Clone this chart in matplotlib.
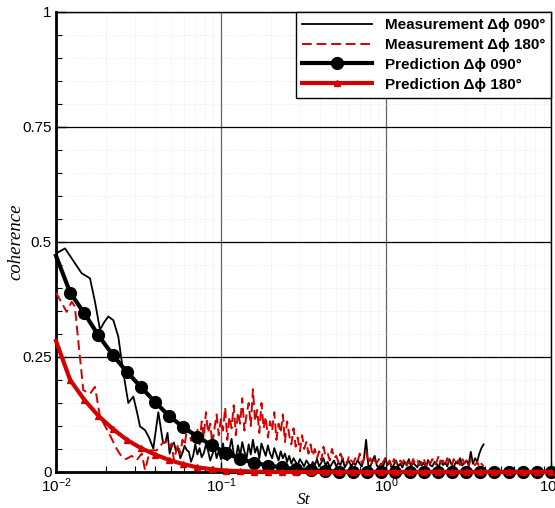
import numpy as np
import matplotlib
matplotlib.use('Agg')
import matplotlib.pyplot as plt
from matplotlib.ticker import LogLocator, MultipleLocator, FixedLocator, NullFormatter

plt.rcParams['font.family'] = ['Liberation Sans', 'DejaVu Sans']
plt.rcParams['mathtext.default'] = 'regular'

# measured coherence, low St part (sparse bins)
st_meas090_low = [0.0100, 0.01134, 0.01268, 0.01431, 0.01607, 0.01723, 0.01848, 0.01954,
                  0.02075, 0.02225, 0.02386, 0.02547, 0.02743, 0.02941, 0.03097, 0.03229,
                  0.03463, 0.03661, 0.03888, 0.04169, 0.04451]
coh_meas090_low = [0.475, 0.486, 0.460, 0.432, 0.421, 0.370, 0.309, 0.325,
                   0.338, 0.330, 0.294, 0.220, 0.150, 0.164, 0.130, 0.099,
                   0.091, 0.075, 0.051, 0.130, 0.064]

st_meas180_low = [0.0100, 0.01161, 0.01245, 0.01300, 0.01463, 0.01607, 0.01723, 0.01848,
                  0.02075, 0.02333, 0.02502, 0.02656, 0.02878, 0.03086, 0.03309, 0.03463,
                  0.03713, 0.04076, 0.04451]
coh_meas180_low = [0.390, 0.348, 0.370, 0.360, 0.178, 0.170, 0.185, 0.120,
                   0.087, 0.050, 0.033, 0.028, 0.035, 0.026, 0.040, 0.004,
                   0.047, 0.047, 0.064]

# measured coherence, dense part St = 0.046 .. 3.9
st_dense = np.geomspace(0.046, 3.9, 150)
coh_meas090_dense = [
    0.064, 0.085, 0.040, 0.058, 0.064, 0.045, 0.052, 0.030, 0.041, 0.057,
    0.048, 0.044, 0.022, 0.035, 0.060, 0.038, 0.052, 0.032, 0.041, 0.060,
    0.046, 0.025, 0.038, 0.055, 0.030, 0.046, 0.028, 0.062, 0.035, 0.025,
    0.050, 0.072, 0.040, 0.030, 0.058, 0.035, 0.065, 0.045, 0.028, 0.060,
    0.038, 0.070, 0.042, 0.055, 0.030, 0.062, 0.048, 0.035, 0.058, 0.040,
    0.030, 0.052, 0.038, 0.025, 0.045, 0.030, 0.040, 0.022, 0.035, 0.018,
    0.030, 0.022, 0.015, 0.028, 0.020, 0.012, 0.025, 0.018, 0.010, 0.022,
    0.015, 0.028, 0.012, 0.020, 0.030, 0.014, 0.022, 0.010, 0.018, 0.025,
    0.012, 0.020, 0.015, 0.030, 0.010, 0.018, 0.024, 0.012, 0.020, 0.015,
    0.026, 0.018, 0.012, 0.030, 0.070, 0.015, 0.012, 0.025, 0.035, 0.014,
    0.010, 0.018, 0.012, 0.030, 0.015, 0.022, 0.008, 0.016, 0.025, 0.012,
    0.018, 0.010, 0.022, 0.014, 0.028, 0.012, 0.020, 0.015, 0.010, 0.024,
    0.014, 0.020, 0.010, 0.026, 0.015, 0.012, 0.022, 0.018, 0.010, 0.025,
    0.015, 0.020, 0.012, 0.028, 0.016, 0.010, 0.022, 0.018, 0.030, 0.014,
    0.020, 0.025, 0.015, 0.044, 0.018, 0.030, 0.022, 0.040, 0.052, 0.060]
coh_meas180_dense = [
    0.064, 0.070, 0.055, 0.062, 0.025, 0.045, 0.060, 0.038, 0.070, 0.058,
    0.090, 0.100, 0.068, 0.085, 0.070, 0.092, 0.060, 0.110, 0.075, 0.130,
    0.085, 0.105, 0.060, 0.095, 0.125, 0.080, 0.115, 0.090, 0.140, 0.070,
    0.120, 0.095, 0.145, 0.080, 0.130, 0.105, 0.160, 0.090, 0.125, 0.150,
    0.100, 0.180, 0.110, 0.135, 0.085, 0.150, 0.095, 0.120, 0.075, 0.110,
    0.090, 0.130, 0.070, 0.105, 0.085, 0.125, 0.065, 0.110, 0.080, 0.060,
    0.095, 0.055, 0.075, 0.045, 0.080, 0.050, 0.065, 0.040, 0.060, 0.035,
    0.050, 0.030, 0.045, 0.025, 0.055, 0.035, 0.040, 0.025, 0.050, 0.030,
    0.035, 0.022, 0.040, 0.028, 0.030, 0.018, 0.035, 0.025, 0.020, 0.030,
    0.022, 0.040, 0.018, 0.028, 0.045, 0.020, 0.030, 0.015, 0.025, 0.020,
    0.028, 0.015, 0.022, 0.030, 0.018, 0.025, 0.012, 0.028, 0.020, 0.015,
    0.025, 0.018, 0.030, 0.015, 0.022, 0.012, 0.028, 0.018, 0.025, 0.015,
    0.020, 0.030, 0.012, 0.025, 0.018, 0.028, 0.015, 0.022, 0.035, 0.018,
    0.025, 0.015, 0.030, 0.020, 0.012, 0.028, 0.018, 0.025, 0.015, 0.030,
    0.018, 0.025, 0.012, 0.028, 0.020, 0.015, 0.022, 0.010, 0.018, 0.012]

# predicted coherence
st_pred = np.logspace(-2, 1, 36)
coh_pred090 = [0.470, 0.390, 0.345, 0.297, 0.255, 0.218, 0.185, 0.152, 0.122, 0.097,
               0.077, 0.058, 0.042, 0.028, 0.020, 0.014, 0.010, 0.006, 0.004, 0.002,
               0.001, 0, 0, 0, 0, 0, 0, 0, 0, 0, 0, 0, 0, 0, 0, 0]
coh_pred180 = [0.285, 0.200, 0.157, 0.122, 0.094, 0.070, 0.052, 0.038, 0.026, 0.017,
               0.010, 0.006, 0.003, 0.002, 0.001, 0, 0, 0, 0, 0,
               0, 0, 0, 0, 0, 0, 0, 0, 0, 0, 0, 0, 0, 0, 0, 0]

labels = ['Measurement \u0394\u03d5 090\u00b0', 'Measurement \u0394\u03d5 180\u00b0',
          'Prediction \u0394\u03d5 090\u00b0', 'Prediction \u0394\u03d5 180\u00b0']

red = '#d40000'

fig = plt.figure(figsize=(5.55, 5.08), dpi=100)
ax = fig.add_axes([0.1009, 0.0709, 0.892, 0.9055])

st_m090 = np.concatenate([st_meas090_low, st_dense])
c_m090 = np.concatenate([coh_meas090_low, coh_meas090_dense])
st_m180 = np.concatenate([st_meas180_low, st_dense])
c_m180 = np.concatenate([coh_meas180_low, coh_meas180_dense])

ax.plot(st_m090, c_m090, color='black', lw=1.3, label=labels[0], zorder=3)
ax.plot(st_m180, c_m180, color=red, lw=1.4, linestyle=(0, (5, 2.5)), label=labels[1], zorder=4)
ax.plot(st_pred, coh_pred090, color='black', lw=3, marker='o', ms=8.5,
        markevery=slice(1, None), label=labels[2], zorder=5, clip_on=False)
ax.plot(st_pred, coh_pred180, color=red, lw=3, marker='^', ms=5,
        markevery=slice(1, None), label=labels[3], zorder=6, clip_on=False)

ax.set_xscale('log')
ax.set_xlim(0.01, 10)
ax.set_ylim(0, 1)
ax.xaxis.set_major_locator(FixedLocator([0.01, 0.1, 1, 10]))
ax.set_xticklabels(['$10^{-2}$', '$10^{-1}$', '$10^{0}$', '$10^{1}$'])
ax.xaxis.set_minor_locator(LogLocator(base=10, subs=np.arange(2, 10)))
ax.xaxis.set_minor_formatter(NullFormatter())
ax.set_yticks([0, 0.25, 0.5, 0.75, 1])
ax.set_yticklabels(['0', '0.25', '0.5', '0.75', '1'])
ax.yaxis.set_minor_locator(MultipleLocator(0.05))

ax.tick_params(which='major', direction='in', length=7, width=1, labelsize=11, pad=3)
ax.tick_params(which='minor', direction='in', length=4, width=0.8)
ax.grid(which='major', axis='y', color='black', lw=0.9)
ax.grid(which='major', axis='x', color='0.4', lw=0.9)
ax.grid(which='minor', color='0.9', lw=0.6, linestyle=':')
ax.set_axisbelow(True)

for s in ['left', 'bottom']:
    ax.spines[s].set_linewidth(2)
for s in ['top', 'right']:
    ax.spines[s].set_linewidth(1)

ax.set_xlabel('St', family='Liberation Serif', style='italic', fontsize=12.5, labelpad=-2)
ax.set_ylabel('coherence', family='Liberation Serif', style='italic', fontsize=13.5)
ax.yaxis.set_label_coords(-0.063, 0.5)

leg = ax.legend(loc='upper right', bbox_to_anchor=(1, 1), borderaxespad=0,
                fancybox=False, framealpha=1, edgecolor='black',
                prop={'weight': 'bold', 'size': 11}, handlelength=4.6,
                handletextpad=0.8, labelspacing=0.38, borderpad=0.4)
leg.get_frame().set_linewidth(1)
leg.set_zorder(10)

fig.savefig('out.png', dpi=100)
